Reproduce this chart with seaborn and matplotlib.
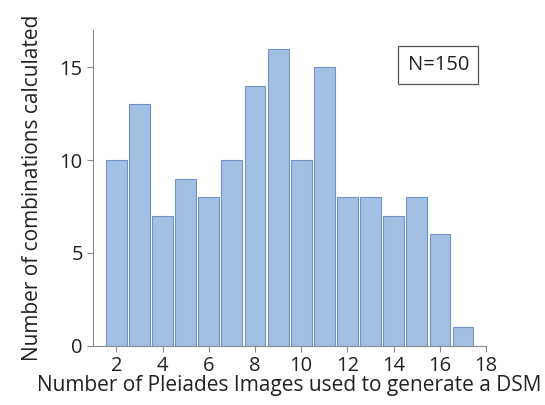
import pandas as pd
import matplotlib.pyplot as plt
import seaborn as sns

n_imagens = [2, 3, 4, 5, 6, 7, 8, 9, 10, 11, 12, 13, 14, 15, 16, 17]
n_combinacoes = [10, 13, 7, 9, 8, 10, 14, 16, 10, 15, 8, 8, 7, 8, 6, 1]
xticks = [2, 4, 6, 8, 10, 12, 14, 16, 18]
yticks = [0, 5, 10, 15]

df = pd.DataFrame({'imagens': n_imagens, 'combinacoes': n_combinacoes})

sns.set_theme(style="ticks")
plt.rcParams['font.family'] = ['Open Sans', 'DejaVu Sans']

fig = plt.figure(figsize=(5.45, 4.05), dpi=100)
ax = fig.add_axes([0.171, 0.146, 0.721, 0.78])

sns.histplot(data=df, x='imagens', weights='combinacoes', discrete=True,
             shrink=0.9, color='#a2c0e4', edgecolor='#6f95c6', linewidth=0.8,
             alpha=1, ax=ax)

ax.set_xlim(1, 18)
ax.set_ylim(0, 17)
ax.set_xticks(xticks)
ax.set_yticks(yticks)
ax.tick_params(labelsize=14.5, colors='#8a8a8a', labelcolor='#222222', length=4, width=0.8)
for s in ['top', 'right']:
    ax.spines[s].set_visible(False)
for s in ['left', 'bottom']:
    ax.spines[s].set_color('#8a8a8a')
    ax.spines[s].set_linewidth(0.8)

ax.set_xlabel('Number of Pleiades Images used to generate a DSM', fontsize=15, color='#222222', labelpad=-1)
ax.set_ylabel('Number of combinations calculated', fontsize=15, color='#222222', labelpad=12)

ax.text(0.878, 0.89, 'N=150', transform=ax.transAxes, ha='center', va='center',
        fontsize=14.5, color='#222222',
        bbox=dict(boxstyle='square,pad=0.45', facecolor='white', edgecolor='#555555', linewidth=0.9))

plt.savefig('out.png', dpi=100)
plt.close()
